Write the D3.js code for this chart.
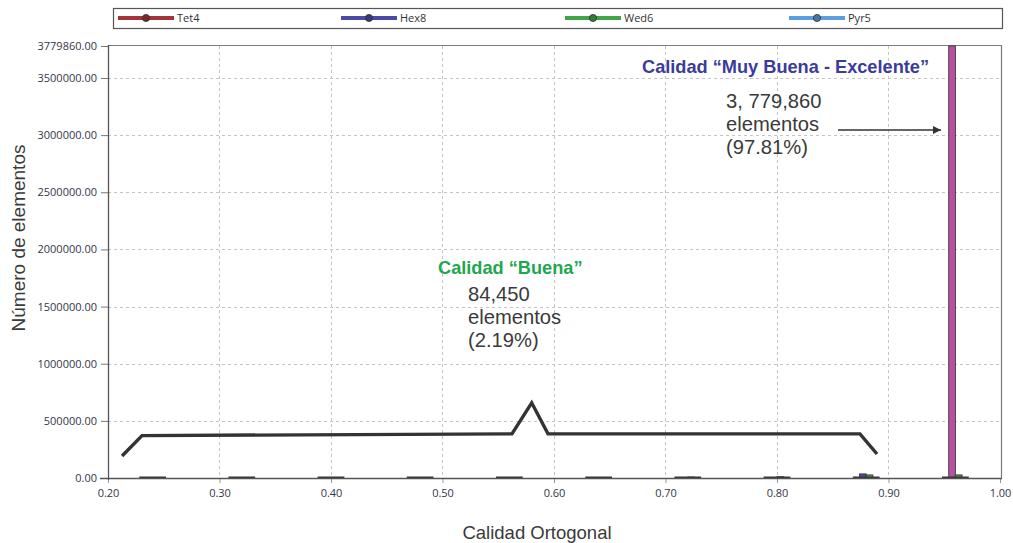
<!DOCTYPE html>
<html>
<head>
<meta charset="utf-8">
<script src="https://cdn.jsdelivr.net/npm/d3@7"></script>
<style>
  body { margin: 0; background: #fff; }
  svg { display: block; }
</style>
</head>
<body>
<svg id="chart" width="1013" height="543"></svg>
<script>
// Histogram bins (centre of each quality bin)
const bins = [0.24, 0.32, 0.40, 0.48, 0.56, 0.64, 0.72, 0.80, 0.88, 0.96];

// Element counts per bin and element type
const seriesNames = ["Tet4", "Hex8", "Wed6", "Pyr5"];
const seriesColors = ["#a3343a", "#4b4aa6", "#3fa548", "#5b9fe0"];
const tet4 = [0, 0, 0, 0, 0, 0, 0, 0, 0, 0];
const hex8 = [30, 40, 50, 60, 70, 100, 500, 1000, 36000, 3779860];
const wed6 = [10, 10, 20, 20, 20, 20, 8500, 11000, 27000, 27000];
const pyr5 = [0, 0, 0, 0, 0, 0, 0, 0, 0, 0];
const seriesValues = [tet4, hex8, wed6, pyr5];

// The dominant bar is highlighted
const highlightBin = 0.96;
const highlightSeries = "Hex8";
const highlightColor = "#b8519f";

// Distribution curve of the "Buena" range
const curveX = [0.2126, 0.2305, 0.5623, 0.5800, 0.5946, 0.8744, 0.8897];
const curveY = [193000, 371000, 386000, 658000, 386000, 386000, 210000];

// Axis ticks
const yMax = 3779860;
const yTicks = [0, 500000, 1000000, 1500000, 2000000, 2500000, 3000000, 3500000, 3779860];
const xTicks = [0.2, 0.3, 0.4, 0.5, 0.6, 0.7, 0.8, 0.9, 1.0];

// Callouts
const callouts = [
  { title: "Calidad \u201cMuy Buena - Excelente\u201d", color: "#3b3b9c", tx: 642, ty: 73,
    lines: ["3, 779,860", "elementos", "(97.81%)"], lx: 726, ly: 108 },
  { title: "Calidad \u201cBuena\u201d", color: "#1fa651", tx: 438, ty: 274,
    lines: ["84,450", "elementos", "(2.19%)"], lx: 468, ly: 301 }
];

const svg = d3.select("#chart");
const plot = { left: 108, right: 1000, top: 46, bottom: 478 };

const x = d3.scaleLinear().domain([0.2, 1.0]).range([plot.left, plot.right]);
const y = d3.scaleLinear().domain([0, yMax]).range([plot.bottom, plot.top]);

const tickFont = "'Open Sans', 'Noto Sans', sans-serif";
const textFont = "'Liberation Sans', Arial, sans-serif";

// Grid lines
const grid = svg.append("g")
  .attr("stroke", "#c4c4c4").attr("stroke-width", 1).attr("stroke-dasharray", "3,3");
grid.selectAll("line.vx").data(xTicks.slice(1, -1)).join("line")
  .attr("x1", d => Math.round(x(d)) + 0.5).attr("x2", d => Math.round(x(d)) + 0.5)
  .attr("y1", plot.top).attr("y2", plot.bottom);
grid.selectAll("line.hy").data(yTicks.filter(d => d > 0 && d < yMax)).join("line")
  .attr("x1", plot.left).attr("x2", plot.right + 1)
  .attr("y1", d => Math.round(y(d)) + 0.5).attr("y2", d => Math.round(y(d)) + 0.5);

// Frame: top and right edges
svg.append("path")
  .attr("d", `M${plot.left},${plot.top - 0.5}H${plot.right + 1.5}V${plot.bottom}`)
  .attr("fill", "none").attr("stroke", "#7a7a7a").attr("stroke-width", 1.2);

// Y axis
const yAxis = svg.append("g")
  .attr("transform", `translate(${plot.left},0)`)
  .call(d3.axisLeft(y).tickValues(yTicks).tickFormat(d3.format(".2f")).tickSize(7).tickPadding(4));
yAxis.select(".domain").remove();
yAxis.selectAll(".tick line").attr("stroke", "#777");
yAxis.selectAll(".tick text").attr("font-family", tickFont).attr("font-size", 11).attr("fill", "#35354a");

// X axis
const xAxis = svg.append("g")
  .attr("transform", `translate(0,${plot.bottom})`)
  .call(d3.axisBottom(x).tickValues(xTicks).tickFormat(d3.format(".2f")).tickSize(5).tickPadding(6));
xAxis.select(".domain").remove();
xAxis.selectAll(".tick line").attr("stroke", "#999");
xAxis.selectAll(".tick text").attr("font-family", tickFont).attr("font-size", 11).attr("fill", "#35354a");

// Bars: one group per bin, one bar per element type
const halfGroup = 0.012;
const bars = svg.append("g");
bins.forEach((b, i) => {
  const gx0 = x(b - halfGroup), gx1 = x(b + halfGroup);
  const bw = (gx1 - gx0) / seriesNames.length;
  seriesNames.forEach((name, j) => {
    const v = seriesValues[j][i];
    if (v <= 0) return;
    const isHi = b === highlightBin && name === highlightSeries;
    bars.append("rect")
      .attr("x", gx0 + j * bw).attr("width", bw)
      .attr("y", y(v)).attr("height", y(0) - y(v))
      .attr("fill", isHi ? highlightColor : seriesColors[j])
      .attr("stroke", "#3a3a3a").attr("stroke-width", 0.9);
  });
  bars.append("line")
    .attr("x1", gx0).attr("x2", gx1)
    .attr("y1", y(0) - 0.5).attr("y2", y(0) - 0.5)
    .attr("stroke", "#333").attr("stroke-width", 2);
});

// Left and bottom axis lines
svg.append("path")
  .attr("d", `M${plot.left + 0.5},${plot.top - 1}V${plot.bottom + 2}M${plot.left - 8},${plot.bottom + 0.5}H${plot.right + 2}`)
  .attr("fill", "none").attr("stroke", "#555").attr("stroke-width", 1.3);

// Distribution curve
const curve = curveX.map((cx, i) => [cx, curveY[i]]);
svg.append("path")
  .datum(curve)
  .attr("d", d3.line().x(d => x(d[0])).y(d => y(d[1])))
  .attr("fill", "none").attr("stroke", "#333").attr("stroke-width", 3.4)
  .attr("stroke-linejoin", "miter");

// Legend
const legend = svg.append("g");
legend.append("rect")
  .attr("x", 113.5).attr("y", 8.5).attr("width", 889).attr("height", 20)
  .attr("fill", "#fff").attr("stroke", "#555").attr("stroke-width", 1.2);
const legendX = [118, 341, 565, 789];
seriesNames.forEach((name, j) => {
  const lg = legend.append("g").attr("transform", `translate(${legendX[j]},18)`);
  lg.append("line").attr("x1", 0).attr("x2", 56).attr("y1", 0).attr("y2", 0)
    .attr("stroke", seriesColors[j]).attr("stroke-width", 4);
  lg.append("circle").attr("cx", 28).attr("cy", 0).attr("r", 3.6)
    .attr("fill", d3.color(seriesColors[j]).darker(0.8)).attr("stroke", "#333").attr("stroke-width", 0.8);
  lg.append("text").attr("x", 59).attr("y", 4)
    .attr("font-family", tickFont).attr("font-size", 11).attr("fill", "#333")
    .text(name);
});

// Axis titles
svg.append("text")
  .attr("transform", "translate(25,238) rotate(-90)")
  .attr("text-anchor", "middle")
  .attr("font-family", textFont).attr("font-size", 19).attr("fill", "#3a3a3a")
  .text("N\u00famero de elementos");
svg.append("text")
  .attr("x", 537).attr("y", 539)
  .attr("text-anchor", "middle")
  .attr("font-family", textFont).attr("font-size", 18.5).attr("fill", "#3a3a3a")
  .text("Calidad Ortogonal");

// Callouts
callouts.forEach(c => {
  svg.append("text")
    .attr("x", c.tx).attr("y", c.ty)
    .attr("font-family", textFont).attr("font-size", 18.2).attr("font-weight", "bold")
    .attr("fill", c.color).text(c.title);
  c.lines.forEach((t, k) => {
    svg.append("text")
      .attr("x", c.lx).attr("y", c.ly + k * 23)
      .attr("font-family", textFont).attr("font-size", 20.2).attr("fill", "#3a3a3a")
      .text(t);
  });
});

// Arrow pointing to the dominant bar
svg.append("defs").append("marker")
  .attr("id", "arrowhead").attr("viewBox", "0 0 10 10")
  .attr("refX", 10).attr("refY", 5)
  .attr("markerWidth", 10).attr("markerHeight", 8).attr("markerUnits", "userSpaceOnUse")
  .attr("orient", "auto")
  .append("path").attr("d", "M0,0L10,5L0,10Z").attr("fill", "#333");
svg.append("line")
  .attr("x1", 838).attr("x2", x(highlightBin - halfGroup) - 1)
  .attr("y1", 130).attr("y2", 130)
  .attr("stroke", "#333").attr("stroke-width", 1.3)
  .attr("marker-end", "url(#arrowhead)");
</script>
</body>
</html>
